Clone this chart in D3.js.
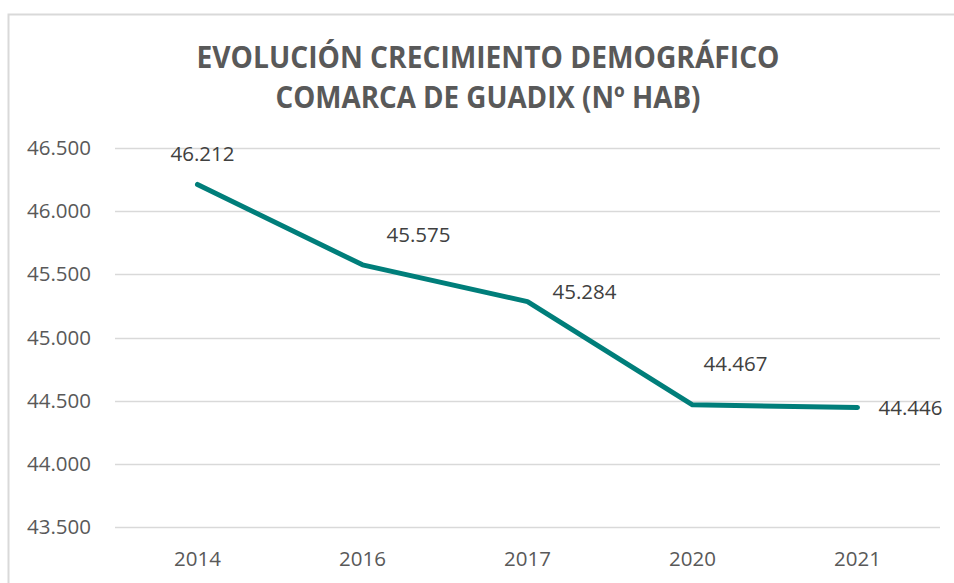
<!DOCTYPE html>
<html><head><meta charset="utf-8">
<script src="https://cdn.jsdelivr.net/npm/d3@7"></script>
<style>body{margin:0;background:#fff;}svg{display:block;font-family:"Open Sans","Noto Sans",sans-serif;}</style>
</head><body><svg id="c" width="954" height="583"></svg>
<script>
const years = ["2014","2016","2017","2020","2021"];
const population = [46212,45575,45284,44467,44446];
const yTicks = [43500,44000,44500,45000,45500,46000,46500];
const titleLines = ["EVOLUCIÓN CRECIMIENTO DEMOGRÁFICO","COMARCA DE GUADIX (Nº HAB)"];
// label offsets (layout, px) relative to each point
const labelDx = [5,56,57,43,53];
const labelDy = [-31,-30,-10,-41,0];

const svg = d3.select("#c");
const fmt = v => d3.format(",")(v).replace(/,/g,".");
const FONT = '"Open Sans","Noto Sans",sans-serif';

// frame
svg.append("rect").attr("x",8.5).attr("y",14.5).attr("width",960).attr("height",600)
  .attr("fill","#fff").attr("stroke","#d9d9d9").attr("stroke-width",2);

const x = d3.scaleBand().domain(years).range([115,940]);
const y = d3.scaleLinear().domain([43500,46500]).range([527,148]);

// title
const tw = [583,425];
svg.selectAll("text.title").data(titleLines).join("text").attr("class","title")
  .attr("x",488).attr("y",(d,i)=>68+i*40).attr("text-anchor","middle")
  .attr("font-size",30).attr("font-weight",700).attr("fill","#595959")
  .attr("textLength",(d,i)=>tw[i]).attr("lengthAdjust","spacingAndGlyphs")
  .text(d=>d);

// grid
svg.append("g").selectAll("line").data(yTicks).join("line")
  .attr("x1",115).attr("x2",940).attr("y1",d=>Math.round(y(d))+0.5).attr("y2",d=>Math.round(y(d))+0.5)
  .attr("stroke","#d9d9d9").attr("stroke-width",1.3);

// y axis
const ya = svg.append("g").attr("transform","translate(91,0)")
  .call(d3.axisLeft(y).tickValues(yTicks).tickFormat(fmt).tickSize(0).tickPadding(0))
  .attr("font-family",FONT).attr("font-size",20.5);
ya.select(".domain").remove();
ya.selectAll("text").attr("fill","#595959");

// x axis
const xa = svg.append("g").attr("transform","translate(0,551)")
  .call(d3.axisBottom(x).tickSize(0).tickPadding(0))
  .attr("font-family",FONT).attr("font-size",20.5);
xa.select(".domain").remove();
xa.selectAll("text").attr("fill","#595959").attr("dy","0.71em");

// line
const pts = years.map((yr,i)=>({yr, v:population[i], i}));
svg.append("path").datum(pts)
  .attr("d",d3.line().x(d=>x(d.yr)+x.bandwidth()/2).y(d=>y(d.v)))
  .attr("fill","none").attr("stroke","#007e7a").attr("stroke-width",5)
  .attr("stroke-linecap","round").attr("stroke-linejoin","round");

// labels
svg.append("g").selectAll("text").data(pts).join("text")
  .attr("x",d=>x(d.yr)+x.bandwidth()/2+labelDx[d.i])
  .attr("y",d=>y(d.v)+labelDy[d.i]).attr("dy","0.35em")
  .attr("text-anchor","middle").attr("font-size",20.5).attr("fill","#404040")
  .attr("font-family",FONT)
  .text(d=>fmt(d.v));
</script></body></html>
